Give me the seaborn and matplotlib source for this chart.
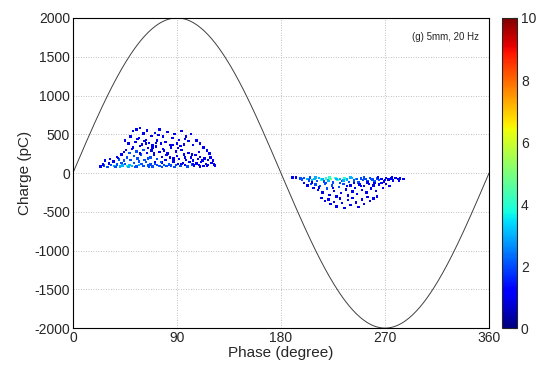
import numpy as np
import pandas as pd
import matplotlib
matplotlib.use("Agg")
import matplotlib.pyplot as plt
import seaborn as sns

# ---- data ----
pos_phase = [24,27,30,33,36,38,41,43,45,47,49,51,53,55,57,59,61,63,65,67,69,71,73,75,77,79,81,83,85,87,89,91,93,95,97,99,101,103,105,107,109,111,113,115,117,120,123,
             28,32,35,38,40,42,44,46,47,49,50,52,53,55,56,58,59,61,62,64,65,67,68,70,72,73,75,77,78,80,82,84,85,87,89,90,92,94,96,98,100,102,104,106,108,110,112,114,117,119,121,
             45,48,50,52,54,55,57,58,60,61,63,64,66,68,69,71,73,75,76,78,80,82,84,86,88,90,92,94,96,98,100,102,104,107,110,113,116,118,
             26,31,37,42,48,54,60,66,71,77,83,88,94,99,104,110,116,122,
             39,44,51,57,63,70,76,81,87,93,97,103,109,
             56,62,69,74,79,86,91,97,58,65,72]
pos_charge = [85,95,80,100,90,110,85,95,120,88,105,92,130,85,100,115,90,140,95,110,85,125,100,90,135,105,88,120,95,140,100,115,90,130,105,92,145,110,95,125,100,140,90,115,105,130,95,
              160,180,150,210,175,240,160,300,200,260,170,330,220,280,190,350,240,300,170,260,320,200,290,230,340,180,270,210,310,170,250,200,330,160,280,220,180,300,240,170,260,200,160,230,180,210,160,190,170,200,160,
              420,380,470,540,400,560,450,580,370,510,430,550,390,480,360,520,420,560,380,470,400,530,360,450,500,380,430,540,370,470,410,500,360,420,380,330,290,250,
              110,125,75,130,80,75,120,80,140,78,110,80,115,78,120,85,90,110,
              195,270,310,150,380,260,145,230,190,350,200,240,270,
              440,410,330,490,290,360,320,440,250,190,390]
pos_count = [1,2,2,2,3,2,3,3,2,4,3,3,2,2,3,2,2,2,2,2,2,2,2,2,1,2,2,1,2,1,2,1,2,1,1,2,1,2,1,1,1,1,1,1,1,1,1,
             1,1,1,1,2,1,2,1,2,2,2,1,2,2,2,1,2,2,2,1,1,2,1,1,1,2,1,1,1,1,1,1,1,1,1,1,1,1,1,1,1,1,1,1,1,1,1,1,1,1,1,
             1,1,1,1,1,1,1,1,1,1,1,1,1,1,1,1,1,1,1,1,1,1,1,1,1,1,1,1,1,1,1,1,1,1,1,1,1,1,
             1,1,2,2,3,2,2,2,1,2,2,2,1,2,1,1,1,1,
             1,1,1,2,1,1,2,1,1,1,1,1,1,
             1,1,1,1,1,1,1,1,1,2,1]

neg_phase = [190,193,197,200,203,205,207,209,211,213,215,217,219,221,223,225,227,229,231,233,235,237,239,241,243,245,247,249,251,253,255,257,259,261,263,265,267,269,271,273,275,277,279,281,283,286,
             200,203,206,208,210,212,214,216,218,220,222,224,226,228,230,232,234,236,238,240,242,244,246,248,250,252,254,256,258,260,262,265,268,271,274,
             215,218,221,223,226,228,231,233,235,238,240,242,245,247,250,252,255,257,260,263,
             198,204,210,216,222,228,234,240,246,252,258,264,270,276,282,
             207,213,219,225,231,237,243,249,255,261,267]
neg_charge = [-55,-60,-70,-65,-80,-60,-90,-75,-100,-65,-85,-110,-70,-95,-80,-120,-65,-90,-75,-105,-70,-85,-115,-65,-95,-80,-120,-70,-90,-75,-110,-65,-85,-100,-70,-90,-75,-110,-65,-85,-70,-95,-65,-80,-70,-75,
              -130,-160,-140,-190,-150,-220,-170,-250,-140,-200,-280,-160,-230,-300,-180,-260,-140,-210,-290,-160,-240,-190,-270,-150,-220,-170,-250,-140,-200,-160,-230,-150,-190,-140,-170,
              -320,-360,-340,-400,-370,-430,-330,-390,-450,-350,-410,-320,-380,-440,-340,-400,-310,-360,-330,-300,
              -85,-95,-60,-75,-60,-80,-95,-60,-75,-60,-75,-60,-90,-60,-95,
              -120,-185,-125,-190,-125,-170,-130,-170,-120,-130,-125]
neg_count = [1,1,2,2,3,2,3,3,2,3,4,2,4,3,5,2,4,4,3,2,4,3,2,3,2,3,2,2,2,2,2,2,2,2,2,2,1,1,1,1,1,1,1,1,1,1,
             1,1,2,1,2,1,2,1,2,2,1,2,1,1,2,1,2,1,1,1,1,1,1,1,1,1,1,1,1,1,1,1,1,1,1,
             1,1,1,1,1,1,1,1,1,1,1,1,1,1,1,1,1,1,1,1,
             2,2,3,3,4,3,3,3,2,2,2,1,1,1,1,
             1,1,2,1,2,1,1,1,1,1,1]

sine_amplitude = 2000
x_ticks = [0, 90, 180, 270, 360]
y_ticks = [-2000, -1500, -1000, -500, 0, 500, 1000, 1500, 2000]
cbar_ticks = [0, 2, 4, 6, 8, 10]
annotation = "(g) 5mm, 20 Hz"

df = pd.DataFrame({
    "phase": pos_phase + neg_phase,
    "charge": pos_charge + neg_charge,
    "count": pos_count + neg_count,
})
ref_phase = np.arange(0, 361, 1)
ref = pd.DataFrame({"phase": ref_phase,
                    "charge": sine_amplitude * np.sin(np.deg2rad(ref_phase))})

sns.set_style("white")
plt.rcParams["font.family"] = ["Liberation Sans", "DejaVu Sans"]
plt.rcParams["axes.unicode_minus"] = False

fig = plt.figure(figsize=(5.44, 3.67), dpi=100)
ax = fig.add_axes([0.134, 0.106, 0.765, 0.845])
cax = fig.add_axes([0.923, 0.106, 0.027, 0.845])

cmap = matplotlib.colormaps["jet"]
norm = matplotlib.colors.Normalize(0, 10)

sns.lineplot(data=ref, x="phase", y="charge", ax=ax, color="#404040", lw=0.7)
sns.scatterplot(data=df, x="phase", y="charge", hue="count", palette=cmap,
                hue_norm=norm, marker="s", s=3, linewidth=0, legend=False, ax=ax)

ax.set_xlim(0, 360)
ax.set_ylim(-2000, 2000)
ax.set_xticks(x_ticks)
ax.set_yticks(y_ticks)
ax.grid(True, linestyle=(0, (1, 2)), color="#aaaaaa", lw=0.6)
ax.tick_params(direction="in", length=3, labelsize=10, pad=2, color="black")
for s in ax.spines.values():
    s.set_color("black")
    s.set_linewidth(0.8)
ax.set_xlabel("Phase (degree)", fontsize=11, labelpad=1)
ax.set_ylabel("Charge (pC)", fontsize=11, labelpad=2)
ax.text(0.975, 0.955, annotation, transform=ax.transAxes, ha="right", va="top", fontsize=7)

cb = matplotlib.colorbar.ColorbarBase(cax, cmap=cmap, norm=norm, ticks=cbar_ticks)
cb.outline.set_linewidth(0.8)
cax.tick_params(labelsize=10, direction="in", length=3, pad=3)

fig.savefig("out.png", dpi=100)
